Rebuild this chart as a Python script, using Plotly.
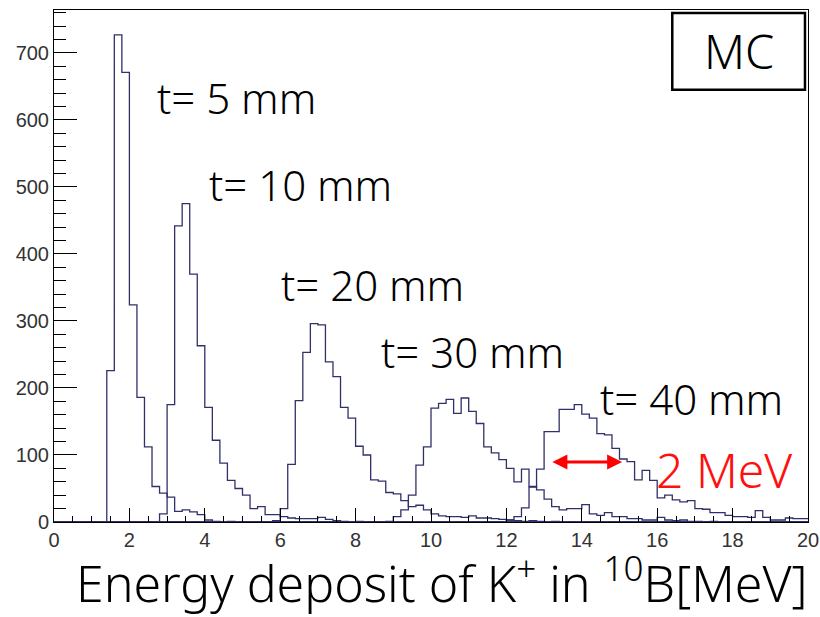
import plotly.graph_objects as go

# Bin edges: 100 bins of 0.2 MeV from 0 to 20
bin_edges = [round(i * 0.2, 1) for i in range(101)]

# Counts per bin (bin k covers [0.2k, 0.2k+0.2])
t5 = [0, 0, 0, 0, 0, 0, 0, 226, 727, 671,
      324, 186, 112, 53, 43, 37, 16, 18, 15, 11,
      3, 1, 0, 1, 0, 0, 0, 0, 0, 0,
      0, 0, 0, 0, 0, 0, 0, 0, 0, 0,
      0, 0, 0, 0, 0, 0, 0, 0, 0, 0,
      0, 0, 0, 0, 0, 0, 0, 0, 0, 0,
      0, 0, 0, 0, 0, 0, 0, 0, 0, 0,
      0, 0, 0, 0, 0, 0, 0, 0, 0, 0,
      0, 0, 0, 0, 0, 0, 0, 0, 0, 0,
      0, 0, 0, 0, 0, 0, 0, 0, 0, 0]

t10 = [0, 0, 0, 0, 0, 0, 0, 0, 0, 0,
       0, 0, 0, 0, 12, 175, 442, 475, 370, 263,
       171, 122, 88, 62, 50, 40, 20, 23, 11, 11,
       8, 6, 5, 5, 5, 7, 4, 2, 1, 0,
       1, 0, 0, 0, 0, 0, 0, 0, 0, 0,
       0, 0, 0, 0, 0, 0, 0, 0, 0, 0,
       0, 0, 0, 0, 0, 0, 0, 0, 0, 0,
       0, 0, 0, 0, 0, 0, 0, 0, 0, 0,
       0, 0, 0, 0, 0, 0, 0, 0, 0, 0,
       0, 0, 0, 0, 0, 0, 0, 0, 0, 0]

t20 = [0, 0, 0, 0, 0, 0, 0, 0, 0, 0,
       0, 0, 0, 0, 0, 0, 0, 0, 0, 0,
       0, 0, 0, 0, 0, 0, 0, 0, 0, 2,
       20, 86, 181, 253, 296, 294, 239, 217, 171, 155,
       113, 100, 63, 61, 44, 42, 32, 23, 25, 18,
       12, 9, 8, 8, 7, 9, 6, 6, 5, 4,
       3, 2, 1, 2, 1, 0, 1, 0, 0, 0,
       0, 0, 0, 0, 0, 0, 0, 0, 0, 0,
       0, 0, 0, 0, 0, 0, 0, 0, 0, 0,
       0, 0, 0, 0, 0, 0, 0, 0, 0, 0]

t30 = [0, 0, 0, 0, 0, 0, 0, 0, 0, 0,
       0, 0, 0, 0, 0, 0, 0, 0, 0, 0,
       0, 0, 0, 0, 0, 0, 0, 0, 0, 0,
       0, 0, 0, 0, 0, 0, 0, 0, 0, 0,
       0, 0, 0, 0, 1, 8, 18, 40, 85, 112,
       170, 177, 183, 162, 185, 165, 147, 112, 103, 93,
       80, 60, 79, 53, 48, 34, 23, 18, 20, 20,
       26, 12, 10, 14, 8, 8, 5, 5, 3, 3,
       7, 3, 2, 3, 1, 1, 0, 1, 0, 0,
       0, 0, 0, 0, 0, 0, 0, 0, 0, 0]

t40 = [0, 0, 0, 0, 0, 0, 0, 0, 0, 0,
       0, 0, 0, 0, 0, 0, 0, 0, 0, 0,
       0, 0, 0, 0, 0, 0, 0, 0, 0, 0,
       0, 0, 0, 0, 0, 0, 0, 0, 0, 0,
       0, 0, 0, 0, 0, 0, 0, 0, 0, 0,
       0, 0, 0, 0, 0, 0, 0, 0, 0, 0,
       3, 8, 21, 52, 79, 135, 135, 168, 168, 175,
       161, 155, 132, 130, 110, 94, 90, 63, 77, 62,
       36, 40, 33, 30, 32, 20, 19, 14, 14, 10,
       8, 8, 7, 17, 7, 3, 3, 6, 5, 5]

series = [("t= 5 mm", t5), ("t= 10 mm", t10), ("t= 20 mm", t20),
          ("t= 30 mm", t30), ("t= 40 mm", t40)]

label_pos = {  # (x, y) in data units for the thickness labels
    "t= 5 mm": (4.84, 634),
    "t= 10 mm": (6.53, 503),
    "t= 20 mm": (8.44, 354),
    "t= 30 mm": (11.09, 254),
    "t= 40 mm": (16.92, 184),
}

line_color = "#30306a"
fig = go.Figure()
for name, vals in series:
    xs = bin_edges[:-1] + [bin_edges[-1]]
    ys = list(vals) + [vals[-1]]
    fig.add_trace(go.Scatter(x=xs, y=ys, mode="lines", line_shape="hv",
                             line=dict(color=line_color, width=1.3),
                             name=name, showlegend=False, hoverinfo="skip"))

FAM = "Noto Sans, Noto Sans CJK JP, sans-serif"
txt_font = dict(family=FAM, size=42, color="black", weight=300)
for name, (lx, ly) in label_pos.items():
    fig.add_annotation(x=lx, y=ly, text=name, showarrow=False, font=txt_font,
                       xanchor="center", yanchor="middle")

# 2 MeV width indicator
fig.add_annotation(x=15.07, y=89.6, ax=13.18, ay=89.6, axref="x", ayref="y",
                   text="", showarrow=True, arrowhead=2, startarrowhead=2,
                   arrowside="end+start", arrowcolor="#ff0000", arrowwidth=3,
                   arrowsize=1, startarrowsize=1)
fig.add_annotation(x=17.76, y=78, text="2 MeV", showarrow=False,
                   font=dict(family=FAM, size=48, color="#ff1010", weight=300),
                   xanchor="center", yanchor="middle")

# MC box
fig.add_shape(type="rect", xref="paper", yref="paper", x0=0.820, x1=0.996, y0=0.844, y1=0.994,
              line=dict(color="black", width=2.5), fillcolor="white", layer="above")
fig.add_annotation(xref="paper", yref="paper", x=0.908, y=0.919, text="MC", showarrow=False,
                   font=dict(family=FAM, size=47, color="black", weight=300),
                   xanchor="center", yanchor="middle")

# x-axis title
fig.add_annotation(xref="paper", yref="paper", x=0.514, y=-0.19,
                   text="Energy deposit of K<sup>+</sup> in <sup>10</sup>B[MeV]", showarrow=False,
                   font=dict(family=FAM, size=50, color="black", weight=300),
                   xanchor="center", yanchor="bottom")

tick_font = dict(family="Liberation Sans Narrow, Arial Narrow, Liberation Sans, Arial, sans-serif",
                 size=20, color="#333333")

fig.update_layout(
    width=820, height=617,
    margin=dict(l=54, r=12, t=10, b=95),
    paper_bgcolor="white", plot_bgcolor="white",
    xaxis=dict(range=[0, 20], tick0=0, dtick=2, ticks="inside", ticklen=14, tickwidth=1,
               tickcolor="black", showline=True, linecolor="black", linewidth=1, mirror=True,
               showgrid=False, zeroline=False, tickfont=tick_font, automargin=False,
               minor=dict(dtick=0.5, ticks="inside", ticklen=6, tickcolor="black", tickwidth=1)),
    yaxis=dict(range=[0, 764], tick0=0, dtick=100, ticks="inside", ticklen=23, tickwidth=1,
               tickcolor="black", showline=True, linecolor="black", linewidth=1, mirror=True,
               showgrid=False, zeroline=False, tickfont=tick_font, automargin=False,
               minor=dict(dtick=20, ticks="inside", ticklen=12, tickcolor="black", tickwidth=1)),
)

# remove the default page margin so the figure fills the window exactly
fig.write_html("out.html", config={"displayModeBar": False},
               post_script="document.body.style.margin='0';document.body.style.overflow='hidden';")
